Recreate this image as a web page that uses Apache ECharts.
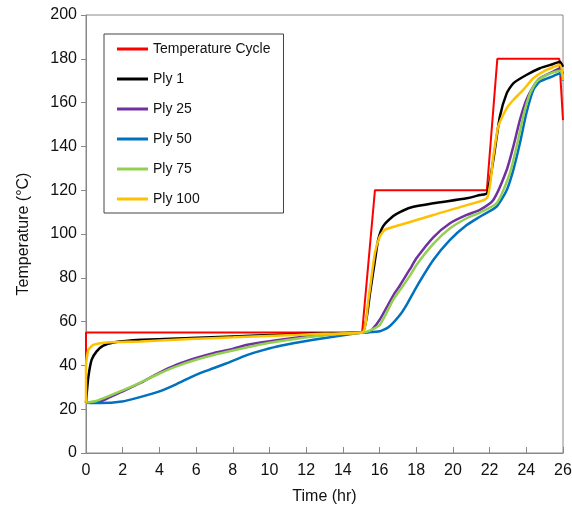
<!DOCTYPE html>
<html>
<head>
<meta charset="utf-8">
<script src="https://cdn.jsdelivr.net/npm/echarts@6/dist/echarts.min.js"></script>
<style>
html,body{margin:0;padding:0;background:#fff;}
#chart{width:572px;height:509px;}
</style>
</head>
<body>
<div id="chart"></div>
<script>
// ---- data ----
var seriesNames = ['Temperature Cycle', 'Ply 1', 'Ply 25', 'Ply 50', 'Ply 75', 'Ply 100'];
var xTicks = [0, 2, 4, 6, 8, 10, 12, 14, 16, 18, 20, 22, 24, 26];
var yTicks = [0, 20, 40, 60, 80, 100, 120, 140, 160, 180, 200];

var cycleTime = [0, 0, 15.05, 15.75, 21.85, 22.42, 25.8, 26];
var cycleTemp = [23, 55, 55, 120, 120, 180, 180, 152];

var ply1Time = [0, 0.04, 0.13, 0.31, 0.58, 0.94, 1.5, 3, 5.7, 8, 10.6, 13, 15.05, 15.3, 15.48, 15.75, 15.93, 16.2, 16.75, 17.11, 17.66, 18.93, 20.75, 21.47, 21.86, 22.2, 22.56, 22.93, 23.29, 24.0, 24.74, 25.47, 25.83, 26];
var ply1Temp = [23, 27.3, 34.9, 42.6, 46.4, 49, 50.5, 51.7, 52.5, 53.2, 54, 54.6, 55, 62, 73, 88, 97.5, 103.6, 108.2, 110, 112, 114, 116.3, 117.8, 118.6, 133.8, 153.6, 164.2, 168.8, 172.6, 175.7, 177.6, 178.7, 176.4];

var ply25Time = [0, 0.76, 1.31, 1.96, 2.94, 3.96, 4.94, 5.96, 6.94, 7.99, 8.8, 10.6, 12.4, 14.2, 15.3, 15.6, 16.02, 16.75, 17.11, 17.66, 18.02, 18.93, 19.84, 20.75, 21.47, 22.2, 22.93, 23.29, 23.65, 24.0, 24.38, 24.74, 25.47, 25.83, 26];
var ply25Temp = [23, 23.5, 25.5, 28, 31.9, 36.5, 40.3, 43.3, 45.6, 47.5, 49.4, 51.7, 53.5, 54.8, 55, 56.5, 61, 72, 76.5, 84, 89, 98.5, 104.9, 108.7, 111, 115.5, 129.2, 139.9, 152, 161.2, 167.3, 171.1, 174.2, 175.7, 173];

var ply50Time = [0, 0.76, 1.96, 2.94, 3.96, 4.94, 5.96, 6.94, 7.67, 8.8, 9.7, 10.6, 12.4, 14.2, 15.04, 16.02, 16.5, 17.11, 17.5, 18.02, 18.93, 19.84, 20.75, 21.47, 22.38, 22.93, 23.29, 23.65, 24.0, 24.38, 24.74, 25.47, 25.83, 26];
var ply50Temp = [23, 22.8, 23.5, 25.5, 28, 31.5, 35.6, 38.7, 41, 44.8, 47.1, 49, 51.7, 54, 55, 55.6, 57.5, 63, 68, 75.9, 88.1, 97.3, 104.1, 107.9, 112.5, 120, 129.2, 141.4, 155.1, 165.8, 169.6, 172.1, 173.4, 170];

var ply75Time = [0, 0.5, 1, 2, 3, 4, 5, 6, 7, 8, 9, 10, 11, 12, 13, 14, 15.1, 15.5, 16.02, 16.75, 17.11, 17.66, 18.02, 18.93, 19.84, 20.75, 21.47, 22.38, 23.1, 23.47, 23.83, 24.2, 24.56, 25.1, 25.83, 26];
var ply75Temp = [23, 23.6, 25.2, 28.6, 32.3, 36.3, 39.8, 42.6, 44.9, 46.8, 48.6, 50.3, 51.6, 52.8, 53.8, 54.5, 55, 56, 58.6, 70, 74.4, 81, 86, 95.5, 102.6, 107.2, 109.8, 114, 127.7, 139.9, 153.6, 164.2, 169.6, 172.6, 174.6, 172];

var ply100Time = [0, 0, 0.13, 0.4, 1.13, 2.94, 5.67, 8.03, 11, 13, 15.05, 15.39, 15.75, 16.02, 16.3, 17.11, 18.93, 20.75, 21.86, 22.2, 22.47, 22.93, 23.29, 23.83, 24.38, 25.1, 25.83, 26];
var ply100Temp = [23, 40, 47.1, 49.4, 50.5, 50.9, 52, 52.8, 53.8, 54.4, 55, 70, 91.4, 99, 102, 104.1, 108.7, 113.2, 116.5, 135.3, 149, 157.4, 161.2, 165.8, 171.1, 174.9, 177.2, 170.3];

// ---- build ----
function zip(a, b) { return a.map(function (v, i) { return [v, b[i]]; }); }
var colors = ['#ff0000', '#000000', '#7030a0', '#0070c0', '#92d050', '#ffc000'];
var datasets = [
  zip(cycleTime, cycleTemp), zip(ply1Time, ply1Temp), zip(ply25Time, ply25Temp),
  zip(ply50Time, ply50Temp), zip(ply75Time, ply75Temp), zip(ply100Time, ply100Temp)
];
var font = "'Liberation Sans', Arial, sans-serif";

var chart = echarts.init(document.getElementById('chart'));
chart.setOption({
  animation: false,
  backgroundColor: '#fff',
  textStyle: { fontFamily: font },
  grid: { left: 86, right: 9, top: 15, bottom: 56, outerBoundsMode: 'none', containLabel: false,
          show: true, borderColor: '#888', borderWidth: 1, backgroundColor: 'transparent' },
  legend: {
    orient: 'vertical', left: 104, top: 34,
    data: seriesNames,
    icon: 'rect', itemWidth: 31, itemHeight: 3, itemGap: 14,
    borderColor: '#444', borderWidth: 1, padding: [7, 13, 6, 13],
    backgroundColor: '#fff',
    textStyle: { fontFamily: font, fontSize: 14, lineHeight: 16, color: '#111' }
  },
  xAxis: {
    type: 'value', min: xTicks[0], max: xTicks[xTicks.length - 1], interval: 2,
    name: 'Time (hr)', nameLocation: 'middle', nameGap: 36,
    nameTextStyle: { fontFamily: font, fontSize: 16, color: '#111' },
    axisLine: { show: true, lineStyle: { color: '#888', width: 1 } },
    axisTick: { show: true, inside: true, length: 6, lineStyle: { color: '#888' } },
    axisLabel: { fontFamily: font, fontSize: 16, color: '#111', margin: 10 },
    splitLine: { show: false }
  },
  yAxis: {
    type: 'value', min: yTicks[0], max: yTicks[yTicks.length - 1], interval: 20,
    name: 'Temperature (°C)', nameLocation: 'middle', nameGap: 54,
    nameTextStyle: { fontFamily: font, fontSize: 16, color: '#111' },
    axisLine: { show: true, lineStyle: { color: '#888', width: 1 } },
    axisTick: { show: true, inside: false, length: 5, lineStyle: { color: '#888' } },
    axisLabel: { fontFamily: font, fontSize: 16, color: '#111', margin: 9 },
    splitLine: { show: false }
  },
  series: seriesNames.map(function (n, i) {
    return {
      name: n, type: 'line', data: datasets[i],
      showSymbol: false, symbol: 'none',
      smooth: i === 0 ? false : 0.2,
      lineStyle: { color: colors[i], width: i === 0 ? 2 : 2.5 },
      itemStyle: { color: colors[i] },
      z: 2 + i
    };
  })
});
</script>
</body>
</html>
